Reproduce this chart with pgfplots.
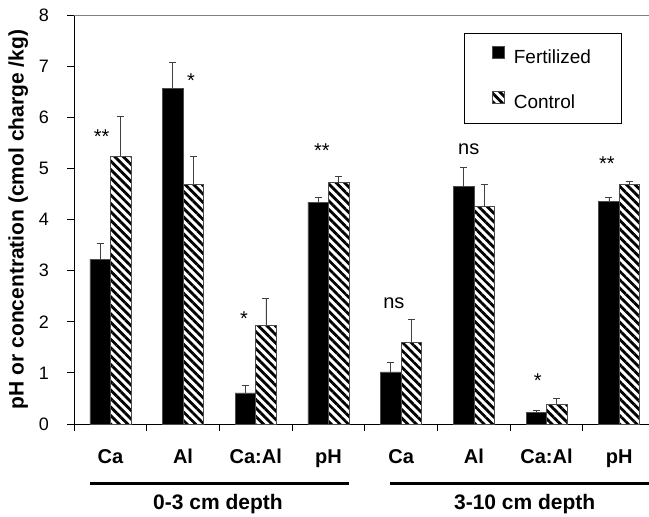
\documentclass[border=0pt]{standalone}
\usepackage{fontspec}
\setmainfont{Liberation Sans}
\usepackage{pgfplots}
\pgfplotsset{compat=1.18}
\usetikzlibrary{patterns.meta}

\pgfplotstableread{
x y err
0 3.22 0.31
1 6.56 0.51
2 0.61 0.15
3 4.34 0.10
4 1.02 0.19
5 4.64 0.38
6 0.22 0.05
7 4.36 0.08
}\fert
\pgfplotstableread{
x y err
0 5.24 0.78
1 4.69 0.54
2 1.93 0.52
3 4.72 0.12
4 1.60 0.45
5 4.25 0.44
6 0.39 0.11
7 4.69 0.05
}\ctrl

\begin{document}
\begin{tikzpicture}
\begin{axis}[
  name=ax,
  scale only axis,
  width=575pt, height=409pt,
  xmin=-0.5, xmax=7.41,
  ymin=0, ymax=8,
  clip=false,
  axis x line*=bottom, axis y line*=left,
  axis line style={black, line width=0.8pt},
  tick align=outside,
  major tick length=7pt,
  tick style={black, line width=0.8pt},
  ytick={0,1,...,8},
  /pgf/number format/assume math mode=true,
  yticklabel style={font=\fontsize{18}{21}\selectfont, inner sep=0pt, anchor=east},
  yticklabel shift=18pt,
  xtick={-0.5,0.5,...,6.5},
  xticklabels={},
  extra x ticks={0,1,...,7},
  extra x tick labels={Ca,Al,Ca:Al,pH,Ca,Al,Ca:Al,pH},
  extra x tick style={tick style={draw=none}},
  xticklabel style={font=\fontsize{20}{23}\selectfont\bfseries, inner sep=0pt, text height=15pt, text depth=4pt, yshift=-17pt},
  ylabel={pH or concentration (cmol charge /kg)},
  ylabel style={font=\fontsize{21}{24}\selectfont\bfseries, at={(axis description cs:-0.097,0.5)}, anchor=center},
  ybar=0pt, bar width=20.5pt,
  legend cell align=left,
  legend style={at={(rel axis cs:0.678,0.955)}, anchor=north west, draw=black, line width=0.8pt,
    font=\fontsize{19}{22}\selectfont, inner xsep=28pt, inner ysep=12pt, row sep=24pt,
    /tikz/every odd column/.append style={column sep=7pt}},
  legend image code/.code={\draw[#1, line width=0.6pt] (0pt,-1pt) rectangle (12pt,11pt);},
  error bars/y dir=plus, error bars/y explicit,
  error bars/error bar style={line width=0.8pt, black!75},
  error bars/error mark options={rotate=90, mark size=3.5pt, line width=0.8pt, black!75},
]
\addplot[fill=black, draw=black!70, line width=0.6pt] table[x=x, y=y, y error=err] {\fert};
\addlegendentry{Fertilized}
\addplot[draw=black!70, line width=0.6pt, pattern={Lines[angle=-45,distance=6pt,line width=2.8pt]}, pattern color=black] table[x=x, y=y, y error=err] {\ctrl};
\addlegendentry{Control}

\draw[black!50, line width=0.8pt] (rel axis cs:0,1) -- (rel axis cs:1,1);

\node[font=\fontsize{20}{22}\selectfont] at (axis cs:-0.12,5.62) {**};
\node[font=\fontsize{20}{22}\selectfont] at (axis cs:1.11,6.71) {*};
\node[font=\fontsize{20}{22}\selectfont] at (axis cs:1.84,2.07) {*};
\node[font=\fontsize{20}{22}\selectfont] at (axis cs:2.91,5.35) {**};
\node[font=\fontsize{20}{22}\selectfont] at (axis cs:3.90,2.37) {ns};
\node[font=\fontsize{20}{22}\selectfont] at (axis cs:4.93,5.38) {ns};
\node[font=\fontsize{20}{22}\selectfont] at (axis cs:5.88,0.84) {*};
\node[font=\fontsize{20}{22}\selectfont] at (axis cs:6.83,5.10) {**};

\draw[line width=3pt] (axis cs:-0.28,-1.17) -- (axis cs:3.28,-1.17);
\draw[line width=3pt] (axis cs:3.85,-1.17) -- (axis cs:7.41,-1.17);
\node[font=\fontsize{21}{24}\selectfont\bfseries] at (axis cs:1.48,-1.56) {0-3 cm depth};
\node[font=\fontsize{21}{24}\selectfont\bfseries] at (axis cs:5.70,-1.56) {3-10 cm depth};
\end{axis}
\pgfresetboundingbox
\path ([shift={(-74pt,-93pt)}]ax.south west) rectangle ([shift={(0pt,15pt)}]ax.north east);
\end{tikzpicture}
\end{document}
